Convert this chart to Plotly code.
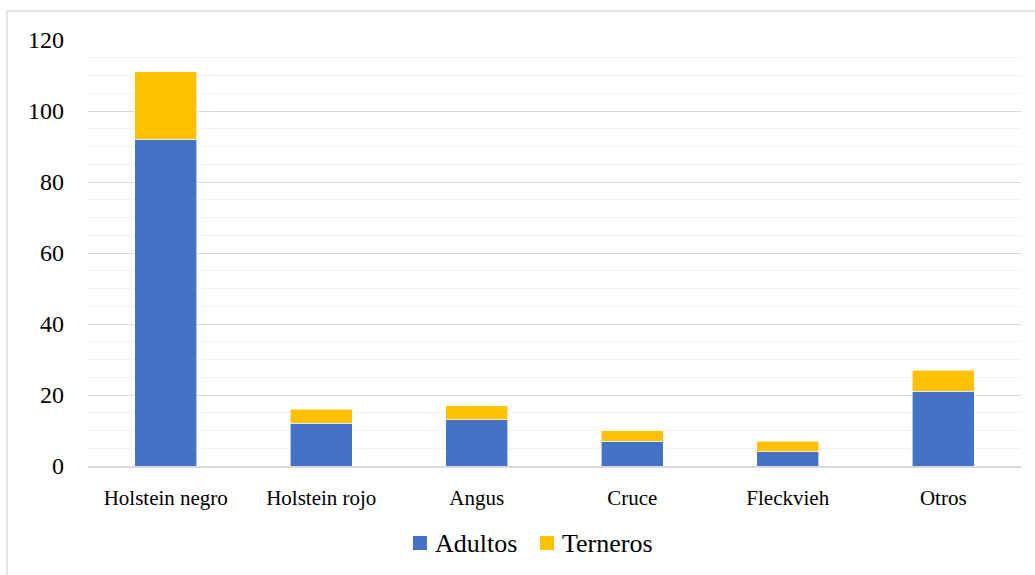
import plotly.graph_objects as go

categories = ["Holstein negro", "Holstein rojo", "Angus", "Cruce", "Fleckvieh", "Otros"]
adultos = [92, 12, 13, 7, 4, 21]
terneros = [19, 4, 4, 3, 3, 6]
y_ticks = [0, 20, 40, 60, 80, 100, 120]
series_names = ["Adultos", "Terneros"]
series_colors = ["#4472C4", "#FFC000"]

FONT = "Liberation Serif"

fig = go.Figure()
for name, vals, col in zip(series_names, [adultos, terneros], series_colors):
    fig.add_trace(go.Bar(x=categories, y=vals, name=name, showlegend=False,
                         marker=dict(color=col, line=dict(color="#FFFFFF", width=0.6))))

# legend drawn as squares + text (serif font)
leg_sq_x = [0.3483, 0.4845]
leg_txt_x = [0.3698, 0.5059]
shapes = [
    dict(type="line", xref="paper", yref="paper", x0=-0.0868, x1=1.2, y0=1.068, y1=1.068,
         line=dict(color="#D9D9D9", width=1.5)),
    dict(type="line", xref="paper", yref="paper", x0=-0.0868, x1=-0.0868, y0=1.068, y1=-0.4,
         line=dict(color="#D9D9D9", width=1.5)),
]
annotations = []
for i, (name, col) in enumerate(zip(series_names, series_colors)):
    shapes.append(dict(type="rect", xref="paper", yref="paper",
                       x0=leg_sq_x[i], x1=leg_sq_x[i] + 0.015, y0=-0.1972, y1=-0.1643,
                       fillcolor=col, line=dict(width=0)))
    annotations.append(dict(text=name, xref="paper", yref="paper", x=leg_txt_x[i], y=-0.1808,
                            xanchor="left", yanchor="middle", showarrow=False,
                            font=dict(family=FONT, size=26, color="#000000")))

fig.update_layout(
    barmode="stack",
    bargap=0.6,
    width=1035, height=575,
    margin=dict(l=88, r=14, t=40, b=109),
    paper_bgcolor="white", plot_bgcolor="white",
    font=dict(family=FONT, color="#000000"),
    showlegend=False,
    shapes=shapes,
    annotations=annotations,
)
fig.update_yaxes(range=[0, 120], tickvals=y_ticks, showgrid=True, gridcolor="#D9D9D9", gridwidth=1,
                 minor=dict(dtick=5, showgrid=True, gridcolor="#F2F2F2", gridwidth=1),
                 zeroline=False, showline=False, ticks="",
                 tickfont=dict(size=24, family=FONT, color="#000000"), ticklabelstandoff=23)
fig.update_xaxes(showline=True, linecolor="#D9D9D9", linewidth=1.5, ticks="",
                 tickfont=dict(size=21, family=FONT, color="#000000"), ticklabelstandoff=12)

fig.write_html("out.html")
